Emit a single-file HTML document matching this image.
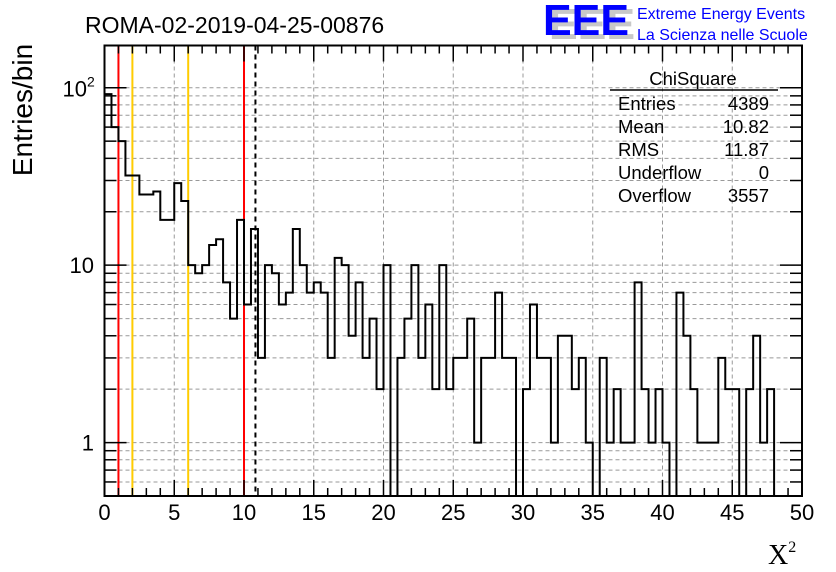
<!DOCTYPE html>
<html><head><meta charset="utf-8"><style>
html,body{margin:0;padding:0;background:#fff;}
svg{display:block;font-family:"Liberation Sans",sans-serif;}
</style></head><body>
<svg id="chart" width="836" height="572" viewBox="0 0 836 572" xmlns="http://www.w3.org/2000/svg">
<rect x="0" y="0" width="836" height="572" fill="#fff"/>
<text x="85" y="33" font-size="23" fill="#000">ROMA-02-2019-04-25-00876</text>
<g>
<text x="549" y="39" font-size="44" font-weight="bold" fill="#c8c8c8" textLength="86" lengthAdjust="spacingAndGlyphs">EEE</text>
<text x="543" y="35" font-size="44" font-weight="bold" fill="#0000ff" textLength="86" lengthAdjust="spacingAndGlyphs">EEE</text>
<text x="637" y="19" font-size="16" fill="#0000ff">Extreme Energy Events</text>
<text x="637" y="40" font-size="16" fill="#0000ff">La Scienza nelle Scuole</text>
</g>
<g id="grid"></g>
<g id="marks"></g>
<g id="axes"></g>
<g font-size="18.5" fill="#000">
<text x="693" y="85" text-anchor="middle">ChiSquare</text>
<line x1="610" y1="90" x2="778" y2="90" stroke="#000" stroke-width="1.5"/>
<text x="618" y="110">Entries</text><text x="769" y="110" text-anchor="end">4389</text>
<text x="618" y="133">Mean</text><text x="769" y="133" text-anchor="end">10.82</text>
<text x="618" y="156">RMS</text><text x="769" y="156" text-anchor="end">11.87</text>
<text x="618" y="179">Underflow</text><text x="769" y="179" text-anchor="end">0</text>
<text x="618" y="202">Overflow</text><text x="769" y="202" text-anchor="end">3557</text>
</g>
<text x="0" y="0" font-size="28" transform="translate(32,110) rotate(-90)" text-anchor="middle">Entries/bin</text>
<text x="768" y="564" font-size="28" font-family="Liberation Serif,serif">X<tspan font-size="16" dy="-12">2</tspan></text>
</svg>
<script>
const binCounts = [92,60,50,32,32,25,25,26,18,18,29,23,10,9,10,13,14,8,5,18,6,16,3,10,9,6,7,16,10,7,8,7,3,11,10,4,8,3,5,2,10,0,3,5,10,3,6,2,10,2,3,3,5,1,3,3,7,3,3,0,2,6,3,3,1,4,4,2,3,1,0,3,1,2,1,1,8,2,1,2,1,0,7,4,2,1,1,1,3,2,2,0,2,4,1,2,0,0,0,0];
const binWidth = [0.5];
const xTicks = [0,5,10,15,20,25,30,35,40,45,50];
const yDecades = [1,10,100];
const refLinesRed = [1,10];
const refLinesOrange = [2,6];
const meanLine = [10.82];

const L=104.5,R=802,T=45.5,B=496;
const xMin=0,xMax=50,yMin=0.5,yMax=173;
const NS="http://www.w3.org/2000/svg";
function X(v){return L+(v-xMin)/(xMax-xMin)*(R-L);}
function Y(v){if(v<=yMin)return B;return B-(Math.log10(v)-Math.log10(yMin))/(Math.log10(yMax)-Math.log10(yMin))*(B-T);}
function mk(tag,attrs,parent){const e=document.createElementNS(NS,tag);for(const k in attrs)e.setAttribute(k,attrs[k]);parent.appendChild(e);return e;}
const grid=document.getElementById('grid'),marks=document.getElementById('marks'),axes=document.getElementById('axes');

xTicks.forEach(t=>{if(t>xMin&&t<xMax){const l=mk('line',{x1:X(t),x2:X(t),y1:T,y2:B,stroke:'#999','stroke-dasharray':'4,3','stroke-width':1},grid);

}});
yDecades.forEach(d=>{for(let m=1;m<=9;m++){const v=d*m;if(v>yMin&&v<yMax){const l=mk('line',{x1:L,x2:R,y1:Y(v),y2:Y(v),stroke:'#999','stroke-dasharray':'4,3','stroke-width':1},grid);

}}});
[0.6,0.7,0.8,0.9].forEach(v=>{const l=mk('line',{x1:L,x2:R,y1:Y(v),y2:Y(v),stroke:'#999','stroke-dasharray':'4,3','stroke-width':1},grid);

});

refLinesRed.forEach(v=>{const l=mk('line',{x1:X(v),x2:X(v),y1:T,y2:B,stroke:'#ff0000','stroke-width':2},marks);

});
refLinesOrange.forEach(v=>{const l=mk('line',{x1:X(v),x2:X(v),y1:T,y2:B,stroke:'#ffcc00','stroke-width':2},marks);

});
meanLine.forEach(v=>{const l=mk('line',{x1:X(v),x2:X(v),y1:T,y2:B,stroke:'#000','stroke-dasharray':'5,4','stroke-width':2},marks);

});

let d='M'+X(0)+','+B;
binCounts.forEach((c,i)=>{const x0=X(i*binWidth[0]),x1=X((i+1)*binWidth[0]),y=Y(c);d+=' L'+x0+','+y+' L'+x1+','+y;});
d+=' L'+X(binCounts.length*binWidth[0])+','+B;
const h=mk('path',{d:d,fill:'none',stroke:'#000','stroke-width':2},marks);



const fr=mk('rect',{x:L,y:T,width:R-L,height:B-T,fill:'none',stroke:'#000','stroke-width':2},axes);


for(let v=0;v<=50;v++){const major=v%5===0;const len=major?16:8;
mk('line',{x1:X(v),x2:X(v),y1:B,y2:B-len,stroke:'#000','stroke-width':1.5},axes);
mk('line',{x1:X(v),x2:X(v),y1:T,y2:T+len,stroke:'#000','stroke-width':1.5},axes);}
xTicks.forEach(t=>{const tx=mk('text',{x:X(t),y:520,'font-size':22,'text-anchor':'middle'},axes);tx.textContent=t;

});
yDecades.forEach(d=>{for(let m=1;m<=9;m++){const v=d*m;if(v<yMax){const len=m===1?22:12;
mk('line',{x1:L,x2:L+len,y1:Y(v),y2:Y(v),stroke:'#000','stroke-width':1.5},axes);
mk('line',{x1:R,x2:R-len,y1:Y(v),y2:Y(v),stroke:'#000','stroke-width':1.5},axes);}}});
[0.6,0.7,0.8,0.9].forEach(v=>{mk('line',{x1:L,x2:L+12,y1:Y(v),y2:Y(v),stroke:'#000','stroke-width':1.5},axes);mk('line',{x1:R,x2:R-12,y1:Y(v),y2:Y(v),stroke:'#000','stroke-width':1.5},axes);});
const yl1=mk('text',{x:94,y:Y(1)+8,'font-size':22,'text-anchor':'end'},axes);yl1.textContent='1';


const yl2=mk('text',{x:94,y:Y(10)+8,'font-size':22,'text-anchor':'end'},axes);yl2.textContent='10';


const yl3=mk('text',{x:87,y:Y(100)+9,'font-size':22,'text-anchor':'end'},axes);yl3.textContent='10';


const sup=mk('text',{x:87,y:Y(100)-1,'font-size':14},axes);sup.textContent='2';


</script>
</body></html>
